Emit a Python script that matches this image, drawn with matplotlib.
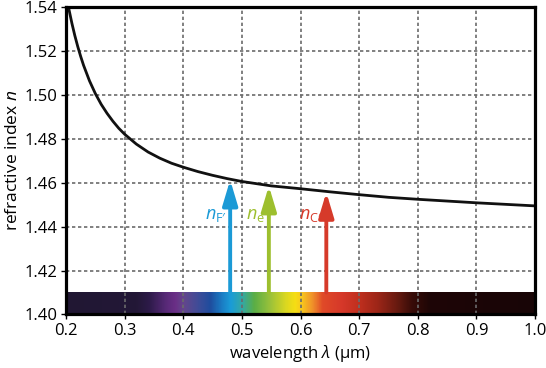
import numpy as np
import matplotlib
matplotlib.use('Agg')
import matplotlib.pyplot as plt
from matplotlib.colors import LinearSegmentedColormap

# ---- data ----
wavelength = [0.200, 0.205, 0.210, 0.215, 0.220, 0.225, 0.230, 0.240, 0.250, 0.260,
              0.270, 0.280, 0.290, 0.300, 0.320, 0.340, 0.360, 0.380, 0.400, 0.425,
              0.450, 0.475, 0.500, 0.550, 0.600, 0.650, 0.700, 0.750, 0.800, 0.850,
              0.900, 0.950, 1.000]
refr_index = [1.5460, 1.5388, 1.5325, 1.5269, 1.5219, 1.5174, 1.5133, 1.5063, 1.5005, 1.4956,
              1.4915, 1.4879, 1.4847, 1.4820, 1.4775, 1.4739, 1.4711, 1.4688, 1.4670, 1.4650,
              1.4633, 1.4618, 1.4605, 1.4585, 1.4572, 1.4558, 1.4545, 1.4533, 1.4524, 1.4516,
              1.4508, 1.4501, 1.4494]

line_names = ["F'", "e", "C'"]
line_wavelengths = [0.480, 0.546, 0.644]
line_tips = [1.4612, 1.4585, 1.4556]
line_colors = ["#1b9ad6", "#9dbf2e", "#d63a2a"]

spec_stops = [0.20, 0.32, 0.34, 0.37, 0.385, 0.40, 0.425, 0.445, 0.465, 0.48, 0.50, 0.52,
              0.548, 0.575, 0.59, 0.60, 0.62, 0.637, 0.67, 0.70, 0.73, 0.765, 0.79, 0.82, 1.00]
spec_colors = ["#211733", "#231837", "#2c1a48", "#582a78", "#6a2e86", "#64468c", "#3e4c98",
               "#1f4d9e", "#1a7cc4", "#1a9cd8", "#34a8a4", "#5aae46", "#9cc23a", "#dcd820",
               "#f6de14", "#f8cc1c", "#f0902a", "#e04a28", "#d6382a", "#bf2f1e", "#9e2618",
               "#661a10", "#380c08", "#1e0606", "#180507"]

x_ticks = [0.2, 0.3, 0.4, 0.5, 0.6, 0.7, 0.8, 0.9, 1.0]
y_ticks = [1.40, 1.42, 1.44, 1.46, 1.48, 1.50, 1.52, 1.54]

# ---- style ----
plt.rcParams['font.family'] = ['Open Sans', 'DejaVu Sans']
plt.rcParams['mathtext.fontset'] = 'custom'
plt.rcParams['mathtext.it'] = 'Open Sans:italic'
plt.rcParams['mathtext.rm'] = 'Open Sans'

fig = plt.figure(figsize=(5.46, 3.68), dpi=100)
ax = fig.add_axes([0.1209, 0.1454, 0.8590, 0.8364])

xmin, xmax, ymin, ymax = 0.2, 1.0, 1.40, 1.54
ax.set_xlim(xmin, xmax)
ax.set_ylim(ymin, ymax)

# spectrum bar
lo, hi = spec_stops[0], spec_stops[-1]
cmap = LinearSegmentedColormap.from_list(
    'spec', [((s - lo) / (hi - lo), c) for s, c in zip(spec_stops, spec_colors)], N=512)
grad = np.linspace(0, 1, 800).reshape(1, -1)
ax.imshow(grad, extent=[xmin, xmax, 1.40, 1.41], aspect='auto', cmap=cmap,
          interpolation='bilinear', zorder=1)

ax.set_xticks(x_ticks)
ax.set_yticks(y_ticks)
ax.set_xticklabels([f"{v:.1f}" for v in x_ticks])
ax.set_yticklabels([f"{v:.2f}" for v in y_ticks])
ax.grid(True, color='#6b6b6b', linestyle=(0, (2.0, 1.6)), linewidth=1.2, zorder=2)

# curve
ax.plot(wavelength, refr_index, color='#111111', lw=2.0, zorder=5, solid_capstyle='butt')

# arrows and labels
for name, lam, tip, col in zip(line_names, line_wavelengths, line_tips, line_colors):
    ax.annotate('', xy=(lam, tip), xytext=(lam, 1.41),
                arrowprops=dict(arrowstyle='-|>,head_length=0.6,head_width=0.18',
                                color=col, lw=2.8, mutation_scale=25,
                                shrinkA=0, shrinkB=0),
                zorder=4)
    ax.text(lam - 0.006, 1.4435, r"$n_{\mathrm{%s}}$" % name.replace("'", "\u2032"),
            color=col, fontsize=13, ha='right', va='baseline', zorder=6)

for s in ax.spines.values():
    s.set_linewidth(2.3)
    s.set_zorder(7)
ax.tick_params(direction='out', length=3.5, width=1, labelsize=12, pad=2.5, color='black')

ax.set_xlabel(r"wavelength $\lambda$ ($\mathrm{\mu}$m)", fontsize=12, labelpad=3)
ax.set_ylabel(r"refractive index $n$", fontsize=12.5, labelpad=3)

fig.savefig('out.png', dpi=100)
